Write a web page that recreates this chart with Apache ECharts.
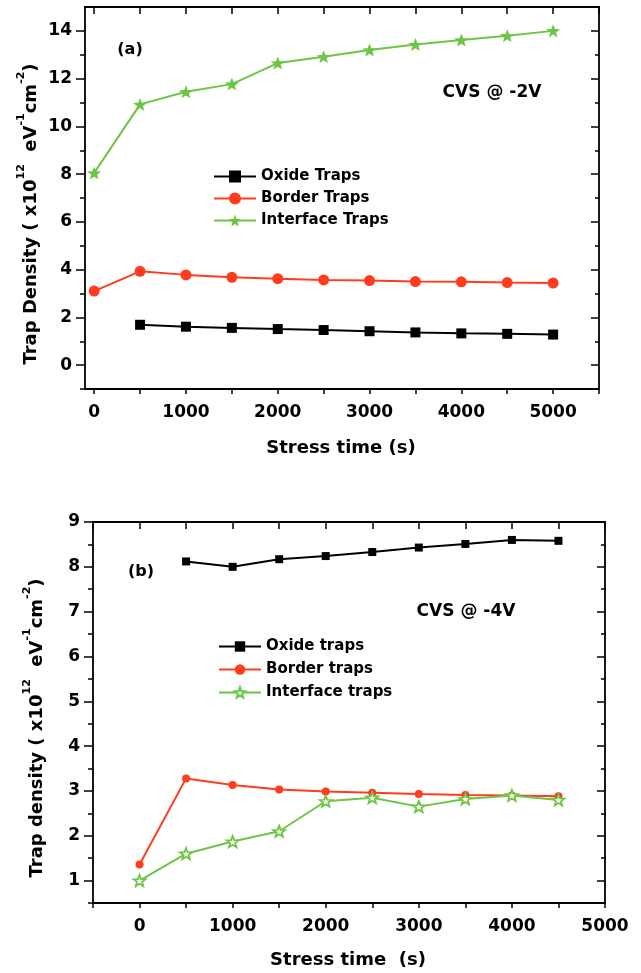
<!DOCTYPE html>
<html>
<head>
<meta charset="utf-8">
<script src="https://cdn.jsdelivr.net/npm/echarts@6/dist/echarts.min.js"></script>
<style>
  html, body { margin: 0; padding: 0; background: #fff; }
  #chart { width: 641px; height: 973px; }
</style>
</head>
<body>
<div id="chart"></div>
<script>
// panel (a): CVS @ -2V
const stressTimeA = [0, 500, 1000, 1500, 2000, 2500, 3000, 3500, 4000, 4500, 5000];
const oxideTrapsA = [null, 1.69, 1.61, 1.56, 1.51, 1.47, 1.42, 1.37, 1.33, 1.31, 1.28];
const borderTrapsA = [3.1, 3.93, 3.78, 3.68, 3.62, 3.57, 3.54, 3.5, 3.49, 3.46, 3.44];
const interfaceTrapsA = [8.05, 10.92, 11.45, 11.77, 12.65, 12.92, 13.2, 13.43, 13.62, 13.8, 14.0];
const xTicksA = [0, 500, 1000, 1500, 2000, 2500, 3000, 3500, 4000, 4500, 5000, 5500];
const xLabelsA = [0, 1000, 2000, 3000, 4000, 5000];
const yLabelsA = [0, 2, 4, 6, 8, 10, 12, 14];
const yMinorA = [-1, 1, 3, 5, 7, 9, 11, 13];

// panel (b): CVS @ -4V
const stressTimeB = [0, 500, 1000, 1500, 2000, 2500, 3000, 3500, 4000, 4500];
const oxideTrapsB = [null, 8.12, 8.0, 8.17, 8.24, 8.33, 8.43, 8.51, 8.6, 8.58];
const borderTrapsB = [1.36, 3.28, 3.13, 3.03, 2.99, 2.96, 2.93, 2.91, 2.9, 2.88];
const interfaceTrapsB = [1.0, 1.6, 1.87, 2.1, 2.77, 2.85, 2.65, 2.82, 2.9, 2.8];
const xTicksB = [-500, 0, 500, 1000, 1500, 2000, 2500, 3000, 3500, 4000, 4500, 5000];
const xLabelsB = [0, 1000, 2000, 3000, 4000, 5000];
const yLabelsB = [1, 2, 3, 4, 5, 6, 7, 8, 9];
const yMinorB = [0.5, 1.5, 2.5, 3.5, 4.5, 5.5, 6.5, 7.5, 8.5];

const FONT = "DejaVu Sans";
const RED = "#FF3C1E";
const GREEN = "#6CC646";
const STAR = "path://M100,0L124.7,66L195.1,69.1L139.9,113L158.8,180.9L100,142L41.2,180.9L60.1,113L4.9,69.1L75.3,66Z";

const lineAxis = { show: true, onZero: false, lineStyle: { color: "#000", width: 1.8 } };
const noLine = { show: false, onZero: false };
const labelStyle = {
  color: "#000", fontFamily: FONT, fontWeight: "bold", fontSize: 17,
  formatter: (v) => String(v),
};

function xAxes(grid, min, max, ticks, labels) {
  return [
    {
      type: "value", gridIndex: grid, min: min, max: max, position: "bottom",
      axisLine: lineAxis, splitLine: { show: false },
      axisTick: { customValues: ticks, length: 5, lineStyle: { color: "#000", width: 1.5 } },
      axisLabel: Object.assign({ customValues: labels, margin: 15 }, labelStyle),
    },
    {
      type: "value", gridIndex: grid, min: min, max: max, position: "top",
      axisLine: lineAxis, splitLine: { show: false },
      axisTick: { customValues: ticks, inside: true, length: 7, lineStyle: { color: "#000", width: 1.5 } },
      axisLabel: { show: false },
    },
  ];
}

function yAxes(grid, min, max, major, minor) {
  const tick = { color: "#000", width: 1.5 };
  return [
    {
      type: "value", gridIndex: grid, min: min, max: max, position: "left",
      axisLine: lineAxis, splitLine: { show: false },
      axisTick: { customValues: major, length: 9, lineStyle: tick },
      axisLabel: Object.assign({ customValues: major, margin: 13 }, labelStyle),
    },
    {
      type: "value", gridIndex: grid, min: min, max: max, position: "left",
      axisLine: noLine, splitLine: { show: false },
      axisTick: { customValues: minor, length: 5, lineStyle: tick },
      axisLabel: { show: false },
    },
    {
      type: "value", gridIndex: grid, min: min, max: max, position: "right",
      axisLine: lineAxis, splitLine: { show: false },
      axisTick: { customValues: major, inside: true, length: 8, lineStyle: tick },
      axisLabel: { show: false },
    },
    {
      type: "value", gridIndex: grid, min: min, max: max, position: "right",
      axisLine: noLine, splitLine: { show: false },
      axisTick: { customValues: minor, inside: true, length: 4, lineStyle: tick },
      axisLabel: { show: false },
    },
  ];
}

function pairs(xs, ys) {
  return xs.map((x, i) => [x, ys[i] == null ? "-" : ys[i]]);
}

function lineSeries(name, xIdx, yIdx, data, color, symbol, size, hollow) {
  return {
    name: name, type: "line", xAxisIndex: xIdx, yAxisIndex: yIdx,
    data: data, symbol: symbol, symbolSize: size, showSymbol: true,
    lineStyle: { color: color, width: 2 },
    itemStyle: hollow
      ? { color: "#fff", borderColor: color, borderWidth: 1.8 }
      : { color: color },
    emphasis: { disabled: true },
    animation: false,
  };
}

const yTitle = (txt) =>
  "{n|" + txt + " ( x10}{s|12}{n|  eV}{s|-1}{n|cm}{s|-2}{n|)}";
const titleRich = {
  n: { fontSize: 18, fontWeight: "bold", fontFamily: FONT, fill: "#000", verticalAlign: "bottom", lineHeight: 24 },
  s: { fontSize: 11, fontWeight: "bold", fontFamily: FONT, fill: "#000", verticalAlign: "top", lineHeight: 24 },
};

function txt(x, y, text, size) {
  return {
    type: "text", x: x, y: y,
    style: {
      text: text, fill: "#000", align: "center", verticalAlign: "middle",
      fontFamily: FONT, fontWeight: "bold", fontSize: size,
    },
  };
}

const legendText = { color: "#000", fontFamily: FONT, fontWeight: "bold", fontSize: 15 };

const option = {
  backgroundColor: "#fff",
  animation: false,
  grid: [
    { left: 85, top: 7, width: 514, height: 382 },
    { left: 93, top: 522, width: 512, height: 381 },
  ],
  xAxis: xAxes(0, -100, 5500, xTicksA, xLabelsA).concat(xAxes(1, -500, 5000, xTicksB, xLabelsB)),
  yAxis: yAxes(0, -1, 15, yLabelsA, yMinorA).concat(yAxes(1, 0.5, 9, yLabelsB, yMinorB)),
  legend: [
    {
      orient: "vertical", left: 208, top: 164, itemWidth: 42, itemHeight: 15, itemGap: 7,
      data: ["Oxide Traps", "Border Traps", "Interface Traps"],
      textStyle: legendText, selectedMode: false,
    },
    {
      orient: "vertical", left: 213, top: 634, itemWidth: 42, itemHeight: 13, itemGap: 8,
      data: ["Oxide traps", "Border traps", "Interface traps"],
      textStyle: legendText, selectedMode: false,
    },
  ],
  series: [
    lineSeries("Oxide Traps", 0, 0, pairs(stressTimeA, oxideTrapsA), "#000", "rect", 10),
    lineSeries("Border Traps", 0, 0, pairs(stressTimeA, borderTrapsA), RED, "circle", 11),
    lineSeries("Interface Traps", 0, 0, pairs(stressTimeA, interfaceTrapsA), GREEN, STAR, [14, 13]),
    lineSeries("Oxide traps", 2, 4, pairs(stressTimeB, oxideTrapsB), "#000", "rect", 8),
    lineSeries("Border traps", 2, 4, pairs(stressTimeB, borderTrapsB), RED, "circle", 8),
    lineSeries("Interface traps", 2, 4, pairs(stressTimeB, interfaceTrapsB), GREEN, STAR, [12, 11], true),
  ],
  graphic: [
    txt(130, 50, "(a)", 16),
    txt(492, 93, "CVS @ -2V", 17),
    txt(341, 448, "Stress time (s)", 18),
    {
      type: "text", x: 28, y: 214, rotation: Math.PI / 2,
      style: { text: yTitle("Trap Density"), rich: titleRich, align: "center", verticalAlign: "middle" },
    },
    txt(141, 572, "(b)", 16),
    txt(466, 612, "CVS @ -4V", 17),
    txt(348, 960, "Stress time  (s)", 18),
    {
      type: "text", x: 34, y: 728, rotation: Math.PI / 2,
      style: { text: yTitle("Trap density"), rich: titleRich, align: "center", verticalAlign: "middle" },
    },
  ],
};

const chart = echarts.init(document.getElementById("chart"));
chart.setOption(option);
</script>
</body>
</html>
